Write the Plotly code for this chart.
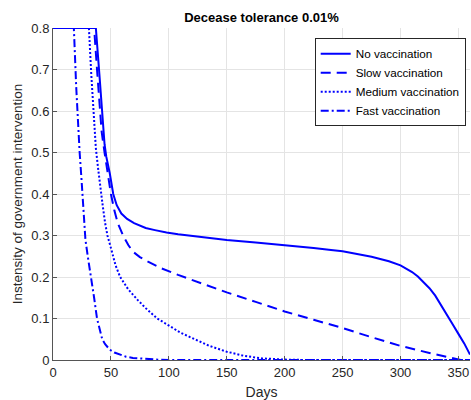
import plotly.graph_objects as go

# ---- data ----
no_vac_days = [0, 37, 40, 43, 44.5, 46, 49, 52, 55, 59, 64, 70, 80, 88, 98, 108, 131, 150, 175,
               200, 225, 240, 250, 275, 290, 300, 310, 315, 320, 325, 330, 335, 340, 345, 350, 355, 360]
no_vac_vals = [0.8, 0.8, 0.69, 0.565, 0.52, 0.49, 0.45, 0.40, 0.373, 0.353, 0.34, 0.33, 0.318, 0.313,
               0.307, 0.303, 0.295, 0.289, 0.283, 0.277, 0.27, 0.265, 0.262, 0.249, 0.238, 0.228,
               0.212, 0.201, 0.188, 0.173, 0.155, 0.133, 0.11, 0.086, 0.063, 0.04, 0.013]

slow_days = [0, 35.5, 38, 40, 42, 44.5, 47, 50, 53, 56, 60.5, 65, 69, 75, 82, 93.5, 108, 128, 150,
             175, 200, 225, 250, 275, 300, 325, 340, 346, 352, 360]
slow_vals = [0.8, 0.8, 0.7, 0.62, 0.55, 0.5, 0.457, 0.4, 0.36, 0.329, 0.3, 0.277, 0.261, 0.248,
             0.237, 0.221, 0.205, 0.185, 0.163, 0.14, 0.117, 0.097, 0.077, 0.055, 0.034, 0.017,
             0.007, 0.004, 0.0, 0.0]

medium_days = [0, 31, 33, 35, 37, 39, 41, 43, 45, 47, 50, 54, 58, 65, 73, 80, 90, 100, 110, 120,
               127, 135, 150, 165, 180, 200, 220, 360]
medium_vals = [0.8, 0.8, 0.69, 0.59, 0.51, 0.46, 0.41, 0.37, 0.33, 0.3, 0.27, 0.228, 0.2, 0.17,
               0.145, 0.125, 0.1, 0.083, 0.066, 0.053, 0.045, 0.034, 0.02, 0.01, 0.004, 0.001, 0.0, 0.0]

fast_days = [0, 18, 20, 22, 23, 24.5, 25.5, 27.5, 28, 30, 33, 35.5, 38, 40, 42.5, 45, 49, 53, 58,
             63, 69, 80, 90, 100, 360]
fast_vals = [0.8, 0.8, 0.66, 0.53, 0.5, 0.44, 0.4, 0.3, 0.29, 0.25, 0.2, 0.15, 0.1, 0.075, 0.05,
             0.038, 0.025, 0.018, 0.013, 0.008, 0.005, 0.002, 0.001, 0.0, 0.0]

series_names = ["No vaccination", "Slow vaccination", "Medium vaccination", "Fast vaccination"]
x_ticks = [0, 50, 100, 150, 200, 250, 300, 350]
y_ticks = [0, 0.1, 0.2, 0.3, 0.4, 0.5, 0.6, 0.7, 0.8]
y_tick_labels = ["0", "0.1", "0.2", "0.3", "0.4", "0.5", "0.6", "0.7", "0.8"]

# ---- figure ----
blue = "#0000ff"
dashes = ["solid", "10px,6px", "2px,2px", "8px,3px,2px,3px"]
data = [(no_vac_days, no_vac_vals), (slow_days, slow_vals),
        (medium_days, medium_vals), (fast_days, fast_vals)]

fig = go.Figure()
for (xs, ys), name, dash in zip(data, series_names, dashes):
    fig.add_trace(go.Scatter(x=xs, y=ys, mode="lines", name=name,
                             line=dict(color=blue, width=2, dash=dash)))

font = "Liberation Sans, Arial, Helvetica, sans-serif"
axis_color = "#555555"
grid_color = "#e4e4e4"

fig.update_layout(
    width=471, height=400,
    margin=dict(l=53, r=1, t=28, b=40, pad=0, autoexpand=False),
    paper_bgcolor="white", plot_bgcolor="white",
    font=dict(family=font, size=13, color="#262626"),
    title=dict(text="<b>Decease tolerance 0.01%</b>", x=0.5, xref="paper",
               y=1 - 17 / 400, yanchor="middle", xanchor="center",
               font=dict(family=font, size=13, color="#000000")),
    showlegend=True,
    legend=dict(x=0.9897, y=0.969, xanchor="right", yanchor="top",
                bgcolor="white", bordercolor="#262626", borderwidth=1,
                font=dict(family=font, size=11.7, color="#000000"),
                tracegroupgap=0),
)
fig.update_xaxes(
    range=[0, 360], tickvals=x_ticks, ticks="inside", ticklen=4, automargin=False,
    tickcolor=axis_color, showline=True, linecolor=axis_color, linewidth=1,
    showgrid=True, gridcolor=grid_color, gridwidth=1, zeroline=False,
    tickfont=dict(family=font, size=13, color="#262626"),
    title=dict(text="Days", standoff=8, font=dict(family=font, size=14, color="#262626")),
)
fig.update_yaxes(
    range=[0, 0.8], tickvals=y_ticks, ticktext=y_tick_labels, ticks="inside", ticklen=4,
    automargin=False,
    tickcolor=axis_color, showline=True, linecolor=axis_color, linewidth=1,
    showgrid=True, gridcolor=grid_color, gridwidth=1, zeroline=False,
    tickfont=dict(family=font, size=13, color="#262626"),
    title=dict(text="Instensity of government intervention", standoff=5,
               font=dict(family=font, size=13.5, color="#262626")),
)

fig.write_html("out.html",
               config={"displayModeBar": False},
               post_script="document.body.style.margin='0';document.body.style.padding='0';")
